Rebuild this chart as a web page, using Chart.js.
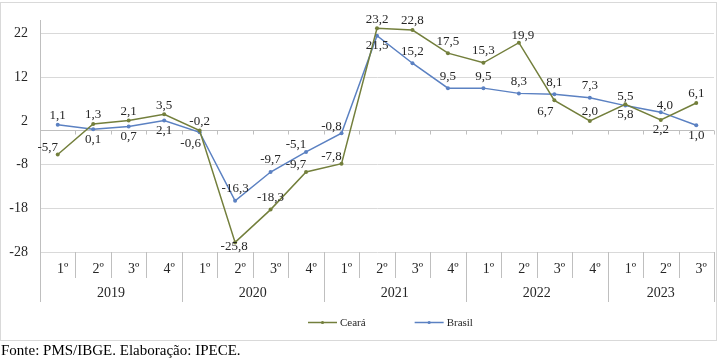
<!DOCTYPE html>
<html>
<head>
<meta charset="utf-8">
<script src="https://cdn.jsdelivr.net/npm/chart.js@4/dist/chart.umd.min.js"></script>
<style>
  html, body { margin: 0; padding: 0; background: #fff; }
  body { width: 718px; height: 358px; position: relative; overflow: hidden; }
  #frame { position: absolute; left: 0; top: 2px; width: 715px; height: 337px; border: 1px solid #d9d9d9; pointer-events: none; }
  #wrap { position: absolute; left: 0; top: 0; width: 718px; height: 342px; }
  #src { position: absolute; left: 1px; top: 342px; font-family: "Liberation Serif", "Times New Roman", serif; font-size: 15px; line-height: 17px; color: #000; white-space: nowrap; }
</style>
</head>
<body>
<div id="wrap"><canvas id="c" width="718" height="342"></canvas></div>
<div id="frame"></div>
<div id="src">Fonte: PMS/IBGE. Elaboração: IPECE.</div>
<script>
// ---- data ----
const quarters = ['1º','2º','3º','4º','1º','2º','3º','4º','1º','2º','3º','4º','1º','2º','3º','4º','1º','2º','3º'];
const years = ['2019','2020','2021','2022','2023'];
const yearSizes = [4, 4, 4, 4, 3];
const ceara = [-5.7, 1.3, 2.1, 3.5, -0.2, -25.8, -18.3, -9.7, -7.8, 23.2, 22.8, 17.5, 15.3, 19.9, 6.7, 2.0, 5.8, 2.2, 6.1];
const brasil = [1.1, 0.1, 0.7, 2.1, -0.6, -16.3, -9.7, -5.1, -0.8, 21.5, 15.2, 9.5, 9.5, 8.3, 8.1, 7.3, 5.5, 4.0, 1.0];
const yTicks = [-28, -18, -8, 2, 12, 22];
const seriesNames = ['Ceará', 'Brasil'];

// label placement codes (styling, not data)
const cearaPlace = ['al','a','a','a','a','o','A','al','al','a','a','A','A','ar','bl','a','b','b','a'];
const brasilPlace = ['a','b','b','b','bl','A','A','al','al','b','A','A','A','A','A','A','a','ar','b'];
const placeOff = {
  a: [0, -9], A: [0, -12], b: [0, 10], o: [-1, 4],
  al: [-10, -7], ar: [4, -7], bl: [-9, 11]
};

const labelsCats = quarters.map((q, i) => q + '#' + i);
const GRID = '#d9d9d9';
const AXIS = '#bfbfbf';
const TXT = '#262626';
const SERIF = '"Liberation Serif", "Times New Roman", serif';

const colors = ['#737f3c', '#5b81c2'];

const fmt = v => v.toFixed(1).replace('.', ',');

const customDraw = {
  id: 'customDraw',
  beforeDatasetsDraw(chart) {
    const ctx = chart.ctx;
    const x = chart.scales.x, y = chart.scales.y;
    const ca = chart.chartArea;
    const y0 = Math.round(y.getPixelForValue(0)) + 0.5;
    const n = quarters.length;
    const step = x.getPixelForValue(1) - x.getPixelForValue(0);
    ctx.save();
    ctx.strokeStyle = AXIS;
    ctx.lineWidth = 1;
    ctx.beginPath();
    ctx.moveTo(ca.left, y0); ctx.lineTo(ca.right, y0);
    for (let i = 0; i <= n; i++) {
      const bx = Math.round(x.getPixelForValue(0) - step / 2 + i * step) + 0.5;
      ctx.moveTo(bx, y0); ctx.lineTo(bx, y0 + 4);
    }
    ctx.stroke();
    ctx.restore();
  },
  afterDraw(chart) {
    const ctx = chart.ctx;
    const x = chart.scales.x;
    const ca = chart.chartArea;
    const n = quarters.length;
    const step = x.getPixelForValue(1) - x.getPixelForValue(0);
    const edge = i => x.getPixelForValue(0) - step / 2 + i * step;
    ctx.save();
    ctx.strokeStyle = AXIS;
    ctx.lineWidth = 1;
    const yearEdges = new Set([0]);
    let acc = 0;
    yearSizes.forEach(s => { acc += s; yearEdges.add(acc); });
    ctx.beginPath();
    for (let i = 0; i <= n; i++) {
      const bx = Math.round(edge(i)) + 0.5;
      ctx.moveTo(bx, ca.bottom);
      ctx.lineTo(bx, ca.bottom + (yearEdges.has(i) ? 50 : 26));
    }
    ctx.stroke();
    ctx.fillStyle = TXT;
    ctx.font = '14px ' + SERIF;
    ctx.textAlign = 'center';
    ctx.textBaseline = 'middle';
    quarters.forEach((q, i) => ctx.fillText(q, x.getPixelForValue(i) + 5, ca.bottom + 17));
    acc = 0;
    years.forEach((yr, k) => {
      const cx = (edge(acc) + edge(acc + yearSizes[k])) / 2;
      ctx.fillText(yr, cx, ca.bottom + 41);
      acc += yearSizes[k];
    });
    ctx.font = '13px ' + SERIF;
    const places = [cearaPlace, brasilPlace];
    chart.data.datasets.forEach((ds, di) => {
      const meta = chart.getDatasetMeta(di);
      meta.data.forEach((pt, i) => {
        const off = placeOff[places[di][i]] || [0, -9];
        ctx.fillText(fmt(ds.data[i]), pt.x + off[0], pt.y + off[1]);
      });
    });
    ctx.font = '11px ' + SERIF;
    ctx.textAlign = 'left';
    let lx = 308;
    const ly = 322.5;
    chart.data.datasets.forEach((ds) => {
      ctx.strokeStyle = ds.borderColor;
      ctx.lineWidth = 1.5;
      ctx.beginPath(); ctx.moveTo(lx, ly); ctx.lineTo(lx + 29, ly); ctx.stroke();
      ctx.fillStyle = ds.borderColor;
      ctx.beginPath(); ctx.arc(lx + 14.5, ly, 1.6, 0, Math.PI * 2); ctx.fill();
      ctx.fillStyle = TXT;
      ctx.fillText(ds.label, lx + 32, ly + 0.5);
      lx += 32 + ctx.measureText(ds.label).width + 49;
    });
    ctx.restore();
  }
};

new Chart(document.getElementById('c'), {
  type: 'line',
  data: {
    labels: labelsCats,
    datasets: [
      { label: seriesNames[0], data: ceara, borderColor: colors[0], backgroundColor: colors[0], borderWidth: 1.5, pointRadius: 2, pointBorderWidth: 0, tension: 0 },
      { label: seriesNames[1], data: brasil, borderColor: colors[1], backgroundColor: colors[1], borderWidth: 1.5, pointRadius: 2, pointBorderWidth: 0, tension: 0 }
    ]
  },
  options: {
    responsive: false,
    animation: false,
    events: [],
    layout: { padding: { top: 17, right: 2, bottom: 90, left: 0 } },
    plugins: { legend: { display: false }, tooltip: { enabled: false } },
    scales: {
      x: { type: 'category', offset: true, display: false },
      y: {
        min: -28, max: 25,
        afterBuildTicks: s => { s.ticks = yTicks.map(v => ({ value: v })); },
        afterFit: s => { s.width = 40; },
        grid: {
          drawTicks: false,
          color: c => (c.tick && c.tick.value === 2) ? 'rgba(0,0,0,0)' : GRID,
          lineWidth: 1
        },
        border: { display: true, color: AXIS },
        ticks: { padding: 12, color: TXT, font: { family: SERIF, size: 14 } }
      }
    }
  },
  plugins: [customDraw]
});
</script>
</body>
</html>
